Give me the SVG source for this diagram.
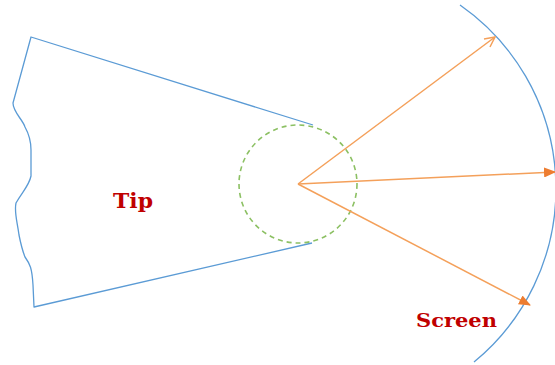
<svg xmlns="http://www.w3.org/2000/svg" width="555" height="365" viewBox="0 0 555 365">
<style>
.blue{fill:none;stroke:#5B9BD5;stroke-width:1.3;stroke-linejoin:round}
.ray{fill:none;stroke:#F4A05A;stroke-width:1.5}
.lbl{font-family:"DejaVu Serif","Liberation Serif",serif;font-weight:bold;fill:#C00000}
</style>
<defs>
<marker id="open" viewBox="0 0 12 12" refX="11" refY="6" markerWidth="12" markerHeight="12" markerUnits="userSpaceOnUse" orient="auto">
<path d="M1,1 L11,6 L1,11" fill="none" stroke="#F4A05A" stroke-width="1.5"/>
</marker>
<marker id="fill" viewBox="0 0 12 10" refX="11" refY="5" markerWidth="12" markerHeight="10" markerUnits="userSpaceOnUse" orient="auto">
<path d="M0,0 L12,5 L0,10 Z" fill="#ED7D31"/>
</marker>
</defs>
<g id="tip">
<path class="blue" d="M313,125 L31,37 L13,103 C13,112 23,120 25,127 C30,136 31,142 31,150 L31,176 C29,186 22,192 16,203 C14,212 17,220 19,235 C21,245 23,252 25,257 C30,264 32,268 33,285 L34,307 L312,243"/>
<text class="lbl" x="113" y="208" font-size="20" textLength="40" lengthAdjust="spacingAndGlyphs">Tip</text>
</g>
<g id="focus">
<circle cx="298" cy="184" r="59" fill="none" stroke="#8CC063" stroke-width="1.6" stroke-dasharray="5,4"/>
</g>
<g id="screen">
<path class="blue" d="M460,5 A224,224 0 0 1 474,362"/>
<text class="lbl" x="416" y="327" font-size="19" textLength="81" lengthAdjust="spacingAndGlyphs">Screen</text>
</g>
<g id="connectors">
<line class="ray" x1="298" y1="184" x2="495" y2="37" marker-end="url(#open)"/>
<line class="ray" x1="298" y1="184" x2="555" y2="172" marker-end="url(#fill)"/>
<line class="ray" x1="298" y1="184" x2="530" y2="305" marker-end="url(#fill)"/>
</g>
</svg>
